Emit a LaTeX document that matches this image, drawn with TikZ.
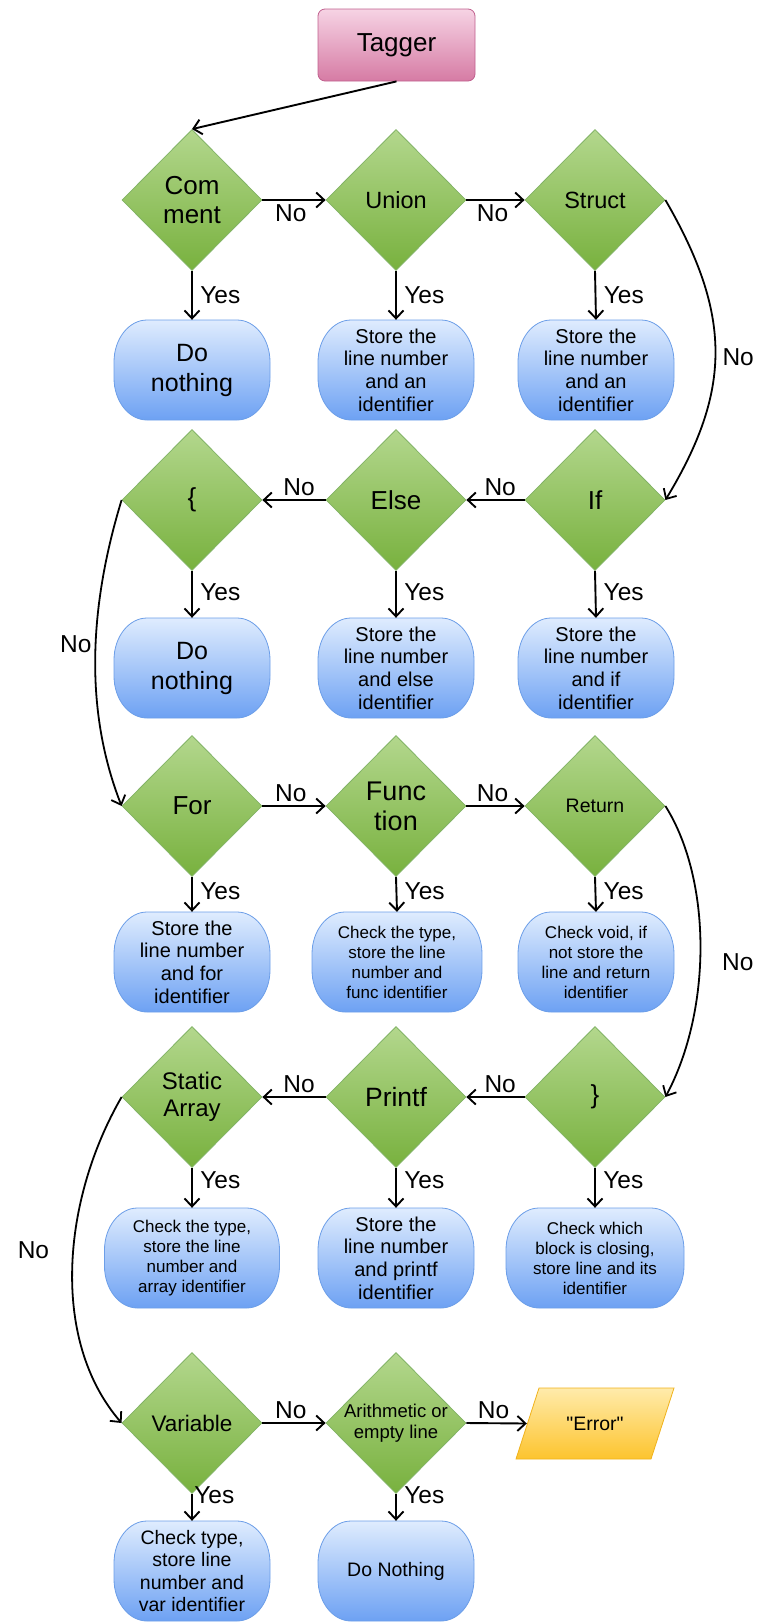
\documentclass[tikz,border=0pt]{standalone}
\usepackage{fontspec}
\setmainfont{Liberation Sans}
\newfontfamily\plainquotes{Liberation Sans}[Ligatures=ResetAll]
\usetikzlibrary{shapes.geometric,arrows.meta}

\definecolor{diaTop}{HTML}{B3D78D}
\definecolor{diaBot}{HTML}{78B13E}
\definecolor{diaLine}{HTML}{82B366}
\definecolor{boxTop}{HTML}{DFECFE}
\definecolor{boxBot}{HTML}{6DA1F3}
\definecolor{boxLine}{HTML}{6C9EE8}
\definecolor{tagTop}{HTML}{F6D3E4}
\definecolor{tagBot}{HTML}{D67BA4}
\definecolor{tagLine}{HTML}{C0608E}
\definecolor{errTop}{HTML}{FFEBAB}
\definecolor{errBot}{HTML}{FDC42E}
\definecolor{errLine}{HTML}{F0B21C}

% font size / baseline in one go
\newcommand\fsz[2]{\fontsize{#1pt}{#2pt}\selectfont}

\tikzset{
  dia/.style={diamond, aspect=1, minimum width=140pt, minimum height=141pt,
    inner sep=0pt, draw=diaLine, line width=0.8pt, top color=diaTop, bottom color=diaBot},
  dtext/.style={align=center, inner sep=0pt, text=black},
  boxshape/.style={draw=boxLine, line width=0.8pt, top color=boxTop, bottom color=boxBot},
  boxnode/.style={rectangle, align=center, inner sep=0pt, minimum height=100pt},
  flow/.style={line width=1.9pt, -{Straight Barb[length=8pt,width=15pt,line width=1.9pt]}},
  curv/.style={line width=1.8pt, -{Straight Barb[length=8pt,width=15pt,line width=1.8pt]}},
  yeslbl/.style={right, font=\fsz{24.5}{28}, xshift=4pt},
  nolbl/.style={font=\fsz{24.5}{28}},
}

% decision diamond: name, x, y, font, text
\newcommand\decision[5]{%
  \node[dia, label={[dtext,font=#4]center:{#5}}] (#1) at (#2,#3) {};}

% rounded process box: name, cx, cy, width, font, text
\newcommand\procbox[6]{%
  \pgfmathsetmacro\bxl{#2-#4/2}%
  \pgfmathsetmacro\bxr{#2+#4/2}%
  \pgfmathsetmacro\bxt{#3-50}%
  \pgfmathsetmacro\bxb{#3+50}%
  \path[boxshape] (\bxl+33,\bxt) -- (\bxr-33,\bxt)
     .. controls (\bxr-14.8,\bxt) and (\bxr,\bxt+18.8) .. (\bxr,\bxt+42)
     -- (\bxr,\bxb-42)
     .. controls (\bxr,\bxb-18.8) and (\bxr-14.8,\bxb) .. (\bxr-33,\bxb)
     -- (\bxl+33,\bxb)
     .. controls (\bxl+14.8,\bxb) and (\bxl,\bxb-18.8) .. (\bxl,\bxb-42)
     -- (\bxl,\bxt+42)
     .. controls (\bxl,\bxt+18.8) and (\bxl+14.8,\bxt) .. (\bxl+33,\bxt) -- cycle;
  \node[boxnode, minimum width=#4pt, font=#5] (#1) at (#2,#3) {#6};}

\begin{document}
\begin{tikzpicture}[x=1pt, y=-1pt]
\useasboundingbox (0,0) rectangle (760,1623);

% start
\node[rectangle, rounded corners=7pt, minimum width=157pt, minimum height=72pt,
      draw=tagLine, line width=0.8pt, top color=tagTop, bottom color=tagBot,
      font=\fsz{26}{30}] (tag) at (396.5,45) {Tagger};

% decisions
\decision{com}{192}{200}{\fsz{26}{29}}{Com\\ment}
\decision{uni}{396}{200}{\fsz{23.5}{27}}{Union}
\decision{str}{595}{200}{\fsz{23.5}{27}}{Struct}

\decision{brL}{192}{500}{\fsz{26}{29}}{\{}
\decision{els}{396}{500}{\fsz{26}{29}}{Else}
\decision{ifn}{595}{500}{\fsz{26}{29}}{If}

\decision{for}{192}{806}{\fsz{26}{29}}{For}
\decision{fun}{396}{806}{\fsz{27}{30}}{Func\\tion}
\decision{ret}{595}{806}{\fsz{19.5}{22}}{Return}

\decision{sta}{192}{1097}{\fsz{24}{27}}{Static\\Array}
\decision{prf}{396}{1097}{\fsz{26.5}{29}}{Printf}
\decision{brR}{595}{1097}{\fsz{26}{29}}{\}}

\decision{var}{192}{1423}{\fsz{22.5}{26}}{Variable}
\decision{ari}{396}{1423}{\fsz{18.5}{21}}{Arithmetic or\\empty line}

% output
\path[draw=errLine, line width=0.8pt, top color=errTop, bottom color=errBot]
  (539,1388) -- (674,1388) -- (651,1459) -- (516,1459) -- cycle;
\node[rectangle, minimum width=136pt, minimum height=71pt, inner sep=0pt,
      font=\plainquotes\fsz{19.5}{22}] (err) at (595,1423.5) {"Error"};

% actions
\procbox{b11}{192}{370}{156}{\fsz{25}{30}}{Do\\nothing}
\procbox{b12}{396}{370}{156}{\fsz{20}{22.6}}{Store the\\line number\\and an\\identifier}
\procbox{b13}{596}{370}{156}{\fsz{20}{22.6}}{Store the\\line number\\and an\\identifier}

\procbox{b21}{192}{668}{156}{\fsz{25}{30}}{Do\\nothing}
\procbox{b22}{396}{668}{156}{\fsz{20}{22.6}}{Store the\\line number\\and else\\identifier}
\procbox{b23}{596}{668}{156}{\fsz{20}{22.6}}{Store the\\line number\\and if\\identifier}

\procbox{b31}{192}{962}{156}{\fsz{20}{22.6}}{Store the\\line number\\and for\\identifier}
\procbox{b32}{397}{962}{170}{\fsz{17}{20}}{Check the type,\\store the line\\number and\\func identifier}
\procbox{b33}{596}{962}{156}{\fsz{17}{20}}{Check void, if\\not store the\\line and return\\identifier}

\procbox{b41}{192}{1258}{175}{\fsz{17}{20}}{Check the type,\\store the line\\number and\\array identifier}
\procbox{b42}{396}{1258}{156}{\fsz{20}{22.6}}{Store the\\line number\\and printf\\identifier}
\procbox{b43}{595}{1258}{178}{\fsz{17}{20}}{Check which\\block is closing,\\store line and its\\identifier}

\procbox{b51}{192}{1571}{156}{\fsz{19.5}{22.3}}{Check type,\\store line\\number and\\var identifier}
\procbox{b52}{396}{1571}{156}{\fsz{19.5}{22.3}}{Do Nothing}

% entry
\draw[flow] (tag.south) -- (com.north);

% row 1
\draw[flow] (com.east) -- node[nolbl, below, pos=.45] {No} (uni.west);
\draw[flow] (uni.east) -- node[nolbl, below, pos=.45] {No} (str.west);
\draw[flow] (com.south) -- node[yeslbl, pos=.5] {Yes} (b11.north);
\draw[flow] (uni.south) -- node[yeslbl, pos=.5] {Yes} (b12.north);
\draw[flow] (str.south) -- node[yeslbl, pos=.5] {Yes} (b13.north);
\draw[curv] (str.east) .. controls (732,315) and (732,390) ..
  node[nolbl, right, pos=.52, xshift=3pt] {No} (ifn.east);

% row 2
\draw[flow] (ifn.west) -- node[nolbl, above, pos=.42] {No} (els.east);
\draw[flow] (els.west) -- node[nolbl, above, pos=.42] {No} (brL.east);
\draw[flow] (brL.south) -- node[yeslbl, pos=.45] {Yes} (b21.north);
\draw[flow] (els.south) -- node[yeslbl, pos=.45] {Yes} (b22.north);
\draw[flow] (ifn.south) -- node[yeslbl, pos=.45] {Yes} (b23.north);
\draw[curv] (brL.west) .. controls (85,620) and (88,720) ..
  node[nolbl, left, pos=.43] {No} (for.west);

% row 3
\draw[flow] (for.east) -- node[nolbl, above, pos=.45] {No} (fun.west);
\draw[flow] (fun.east) -- node[nolbl, above, pos=.45] {No} (ret.west);
\draw[flow] (for.south) -- node[yeslbl, pos=.4] {Yes} (b31.north);
\draw[flow] (fun.south) -- node[yeslbl, pos=.4] {Yes} (b32.north);
\draw[flow] (ret.south) -- node[yeslbl, pos=.4] {Yes} (b33.north);
\draw[curv] (ret.east) .. controls (712,880) and (712,1010) ..
  node[nolbl, right, pos=.55, xshift=18pt] {No} (brR.east);

% row 4
\draw[flow] (brR.west) -- node[nolbl, above, pos=.42] {No} (prf.east);
\draw[flow] (prf.west) -- node[nolbl, above, pos=.42] {No} (sta.east);
\draw[flow] (sta.south) -- node[yeslbl, pos=.3] {Yes} (b41.north);
\draw[flow] (prf.south) -- node[yeslbl, pos=.3] {Yes} (b42.north);
\draw[flow] (brR.south) -- node[yeslbl, pos=.3] {Yes} (b43.north);
\draw[curv] (sta.west) .. controls (62,1200) and (50,1340) ..
  node[nolbl, left, pos=.45, xshift=-20pt] {No} (var.west);

% row 5
\draw[flow] (var.east) -- node[nolbl, above, pos=.45] {No} (ari.west);
\draw[flow] (ari.east) -- node[nolbl, above, pos=.45] {No} (err.west);
\draw[flow] (var.south) -- node[yeslbl, pos=.05, xshift=-6pt] {Yes} (b51.north);
\draw[flow] (ari.south) -- node[yeslbl, pos=.05] {Yes} (b52.north);
\end{tikzpicture}
\end{document}
